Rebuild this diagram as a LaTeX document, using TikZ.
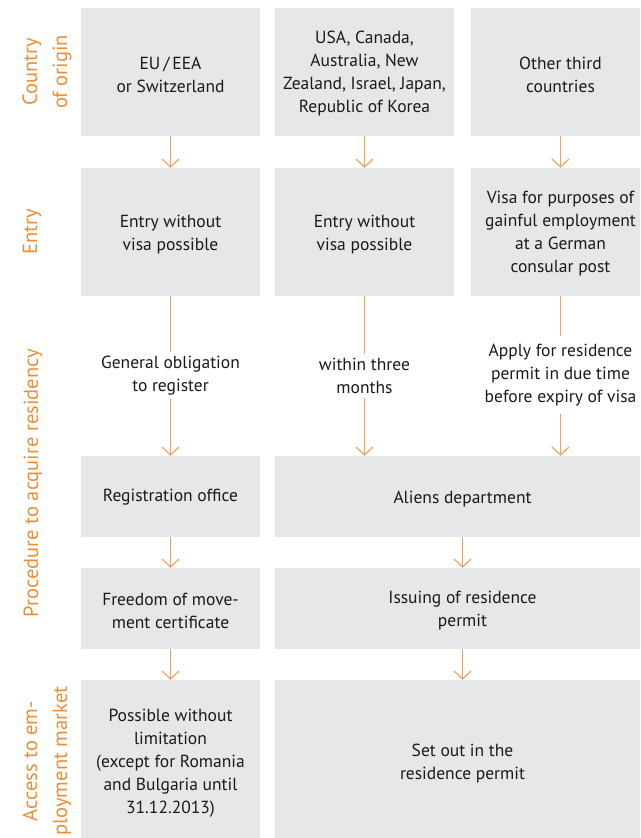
\documentclass[tikz,border=0pt]{standalone}
\usepackage{fontspec}
\setmainfont{PT Sans}
\usetikzlibrary{arrows.meta}
\definecolor{boxgray}{HTML}{E6E7E8}
\definecolor{arrorange}{HTML}{F6A25E}
\definecolor{lblorange}{HTML}{F08C34}
\definecolor{txtcol}{HTML}{1A1A1A}
\tikzset{
  box/.style={fill=boxgray, draw=none, inner sep=0pt, minimum width=179pt},
  btext/.style={inner sep=0pt, align=center, font=\fontsize{17.5}{23}\selectfont, text=txtcol},
  midtext/.style={inner xsep=0pt, align=center, font=\fontsize{17.5}{23}\selectfont, text=txtcol},
  lbl/.style={rotate=90, align=center, inner sep=0pt, font=\fontsize{20.5}{30}\selectfont, text=lblorange},
  conn/.style={draw=arrorange, line width=1.2pt},
  arr/.style={conn, -{Straight Barb[length=8pt,width=17pt,line width=1.2pt]}}
}
\begin{document}
\begin{tikzpicture}[x=1pt,y=-1pt]
\useasboundingbox (0,0) rectangle (640,838);
\clip (0,0) rectangle (640,838);
% boxes
\node[box, minimum height=128pt] (r1a) at (170.5,72) {};
\node[box, minimum height=128pt] (r1b) at (364.5,72) {};
\node[box, minimum height=128pt] (r1c) at (560.5,72) {};
\node[box, minimum height=128pt] (r2a) at (170.5,232) {};
\node[box, minimum height=128pt] (r2b) at (364.5,232) {};
\node[box, minimum height=128pt] (r2c) at (560.5,232) {};
\node[box, minimum height=81pt] (r3a) at (170.5,496.5) {};
\node[box, minimum height=81pt, minimum width=375pt] (r3b) at (462.5,496.5) {};
\node[box, minimum height=81pt] (r4a) at (170.5,608.5) {};
\node[box, minimum height=81pt, minimum width=375pt] (r4b) at (462.5,608.5) {};
\node[box, minimum height=162pt] (r5a) at (170.5,761) {};
\node[box, minimum height=162pt, minimum width=375pt] (r5b) at (462.5,761) {};
% box texts
\node[btext] (t1a) at ([yshift=-2.5pt]r1a.center) {EU\,/\,EEA\\or Switzerland};
\node[btext] (t1b) at ([yshift=-1.5pt]r1b.center) {USA, Canada,\\Australia, New\\Zealand, Israel, Japan,\\Republic of Korea};
\node[btext] (t1c) at ([yshift=-2.5pt]r1c.center) {Other third\\countries};
\node[btext] (t2a) at ([yshift=-3pt]r2a.center) {Entry without\\visa possible};
\node[btext] (t2b) at ([yshift=-3pt]r2b.center) {Entry without\\visa possible};
\node[btext] (t2c) at ([yshift=-2pt]r2c.center) {Visa for purposes of\\gainful employment\\at a German\\consular post};
\node[btext] (t3a) at ([yshift=-1pt]r3a.center) {Registration office};
\node[btext] (t3b) at ([yshift=-2.5pt]r3b.center) {Aliens department};
\node[btext] (t4a) at ([yshift=-2pt]r4a.center) {Freedom of move-\\ment certificate};
\node[btext] (t4b) at ([yshift=-2.5pt]r4b.center) {Issuing of residence\\permit};
\node[btext] (t5a) at ([yshift=-2.5pt]r5a.center) {Possible without\\limitation\\(except for Romania\\and Bulgaria until\\31.12.2013)};
\node[btext] (t5b) at ([yshift=-2.5pt]r5b.center) {Set out in the\\residence permit};
% middle texts
\node[midtext, inner ysep=4pt] (m1) at (170.5,375.5) {General obligation\\to register};
\node[midtext, inner ysep=4pt] (m2) at (364.5,375.5) {within three\\months};
\node[midtext, inner ysep=8pt] (m3) at (560.5,375) {Apply for residence\\permit in due time\\before expiry of visa};
% connectors
\draw[arr] (r1a) -- (r2a);
\draw[arr] (r1b) -- (r2b);
\draw[arr] (r1c) -- (r2c);
\draw[conn] (r2a) -- (m1);
\draw[conn] (r2b) -- (m2);
\draw[conn] (r2c) -- (m3);
\draw[arr] (m1) -- (r3a);
\draw[arr] (m2.south) -- (m2.south |- r3b.north);
\draw[arr] (m3.south) -- (m3.south |- r3b.north);
\draw[arr] (r3a) -- (r4a);
\draw[arr] (r3b) -- (r4b);
\draw[arr] (r4a) -- (r5a);
\draw[arr] (r4b) -- (r5b);
% row labels
\node[lbl] (l1) at (47,72) {Country\\of origin};
\node[lbl] (l2) at (32,232) {Entry};
\node[lbl] (l3) at (33,483) {Procedure to acquire residency};
\node[lbl] (l4) at (47,761) {Access to em-\\ployment market};
\end{tikzpicture}
\end{document}
